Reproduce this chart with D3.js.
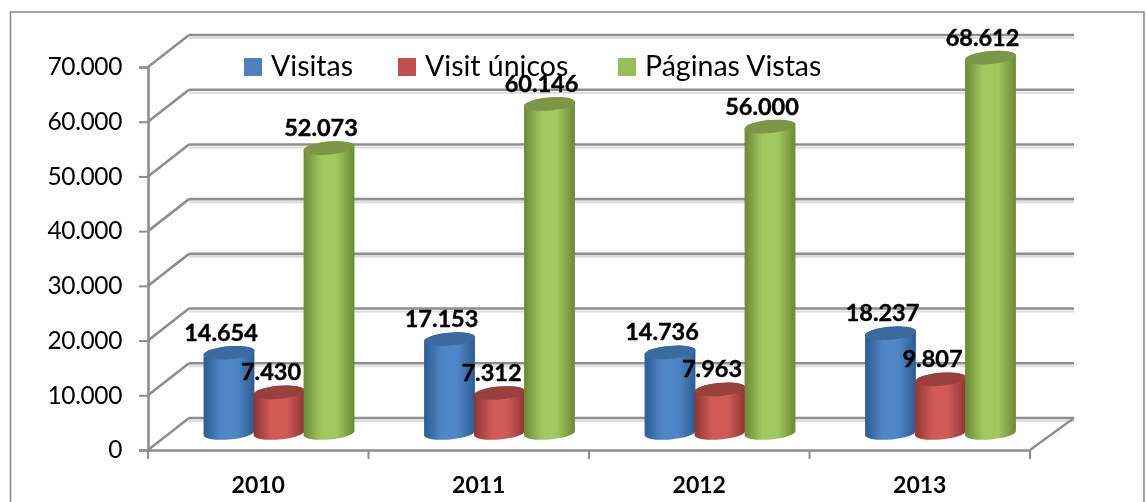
<!DOCTYPE html>
<html>
<head>
<meta charset="utf-8">
<script src="https://cdn.jsdelivr.net/npm/d3@7"></script>
<style>
  html, body { margin: 0; background: #fff; }
  svg { display: block; }
  text { font-family: Lato, "Open Sans", sans-serif; fill: #000; }
</style>
</head>
<body>
<svg id="chart" width="1147" height="502"></svg>
<script>
// Data
const years = ["2010", "2011", "2012", "2013"];
const seriesNames = ["Visitas", "Visit únicos", "Páginas Vistas"];
const visitas = [14654, 17153, 14736, 18237];
const visitUnicos = [7430, 7312, 7963, 9807];
const paginasVistas = [52073, 60146, 56000, 68612];
const yTicks = [0, 10000, 20000, 30000, 40000, 50000, 60000, 70000];

const seriesValues = [visitas, visitUnicos, paginasVistas];
const colors = [
  { edge: "#2c5c92", mid: "#4f86c6", top: "#3a6a9f", key: "#4f81bd" },
  { edge: "#8f3633", mid: "#d05a57", top: "#973f3c", key: "#c0504d" },
  { edge: "#6b8835", mid: "#a3c85f", top: "#7b9647", key: "#9bbb59" },
];

const svg = d3.select("#chart");
const defs = svg.append("defs");
defs.append("filter").attr("id", "soft")
  .append("feGaussianBlur").attr("stdDeviation", 0.45);

colors.forEach((c, i) => {
  const g = defs.append("linearGradient").attr("id", "cyl" + i);
  g.append("stop").attr("offset", "0%").attr("stop-color", c.edge);
  g.append("stop").attr("offset", "35%").attr("stop-color", c.mid);
  g.append("stop").attr("offset", "65%").attr("stop-color", c.mid);
  g.append("stop").attr("offset", "100%").attr("stop-color", c.edge);
});

// Frame
svg.append("rect")
  .attr("x", 10.5).attr("y", 12).attr("width", 1133.5).attr("height", 520)
  .attr("fill", "#fff").attr("stroke", "#8f8f8f").attr("stroke-width", 1.6);

// Scales
const x = d3.scaleBand().domain(years).range([148, 1030]);
const y = d3.scaleLinear().domain([0, 70000]).range([450, 67]);
const inner = d3.scaleBand().domain(d3.range(3)).range([56, 206]);
const nf = d3.formatLocale({ decimal: ",", thousands: ".", grouping: [3], currency: ["", ""] }).format(",d");

// 3D offset of the back wall and of the bar bases
const depthX = 41;
const depthY = -32;
const baseLift = 17;
const gridColor = "#8e8e8e";

const plot = svg.append("g").attr("filter", "url(#soft)");

// Back wall lines and their shadow
const grid = plot.append("g");
grid.selectAll("line.shadow").data(yTicks).enter().append("line")
  .attr("class", "shadow")
  .attr("x1", depthX + 148).attr("x2", 1074)
  .attr("y1", (d) => y(d) + depthY + 3).attr("y2", (d) => y(d) + depthY + 3)
  .attr("stroke", "#dcdcdc").attr("stroke-width", 2);
grid.selectAll("line.back").data(yTicks).enter().append("line")
  .attr("class", "back")
  .attr("x1", depthX + 148).attr("x2", 1074)
  .attr("y1", (d) => y(d) + depthY).attr("y2", (d) => y(d) + depthY)
  .attr("stroke", gridColor).attr("stroke-width", 2.6);
grid.selectAll("line.side").data(yTicks).enter().append("line")
  .attr("class", "side")
  .attr("x1", 148).attr("x2", 148 + depthX)
  .attr("y1", (d) => y(d)).attr("y2", (d) => y(d) + depthY)
  .attr("stroke", gridColor).attr("stroke-width", 2.6);

// Floor, right edge
grid.append("line")
  .attr("x1", 1030).attr("x2", 1030 + 44)
  .attr("y1", y(0)).attr("y2", y(0) + depthY)
  .attr("stroke", gridColor).attr("stroke-width", 2.4);

// Axes
const yAxis = plot.append("g")
  .attr("transform", "translate(148,0)")
  .call(d3.axisLeft(y).tickValues(yTicks).tickFormat(nf).tickSize(9).tickPadding(17));
const xAxis = plot.append("g")
  .attr("transform", "translate(0,450)")
  .call(d3.axisBottom(x).tickValues([]).tickSizeOuter(0));
[yAxis, xAxis].forEach((a) => {
  a.select(".domain").attr("stroke", gridColor).attr("stroke-width", 2.6);
  a.selectAll(".tick line").attr("stroke", gridColor).attr("stroke-width", 2);
});
yAxis.selectAll("text")
  .attr("font-size", 24.5)
  .attr("font-family", "Lato")
  .attr("letter-spacing", -0.4)
  .attr("fill", "#000");

// Category boundary ticks
xAxis.selectAll("line.bound").data(d3.range(5)).enter().append("line")
  .attr("class", "bound")
  .attr("x1", (i) => 148 + i * x.bandwidth()).attr("x2", (i) => 148 + i * x.bandwidth())
  .attr("y1", 0).attr("y2", 9)
  .attr("stroke", gridColor).attr("stroke-width", 2);

// Category labels
plot.append("g").selectAll("text").data(years).enter().append("text")
  .attr("x", (d) => x(d) + x.bandwidth() / 2)
  .attr("y", 492.5)
  .attr("text-anchor", "middle")
  .attr("font-size", 23)
  .attr("font-weight", 700)
  .text((d) => d);

// Legend
const legendSwatchX = [244, 398, 618];
const legend = plot.append("g").selectAll("g").data(seriesNames).enter().append("g")
  .attr("transform", (d, i) => `translate(${legendSwatchX[i]},58)`);
legend.append("rect")
  .attr("width", 18).attr("height", 18)
  .attr("fill", (d, i) => colors[i].key);
legend.append("text")
  .attr("x", 27).attr("y", 18)
  .attr("font-size", 28.5)
  .text((d) => d);

// Cylinders
const rx = 25.5;
const ry = 6.5;
const tilt = -5;
const tiltRad = (tilt * Math.PI) / 180;

function bodyPath(cx, top, bottom) {
  const dx = rx * Math.cos(tiltRad);
  const dy = rx * Math.sin(tiltRad);
  return `M${cx - dx},${top - dy}` +
    `L${cx - dx},${bottom - dy}` +
    `A${rx},${ry} ${tilt} 0 0 ${cx + dx},${bottom + dy}` +
    `L${cx + dx},${top + dy}` +
    `A${rx},${ry} ${tilt} 0 0 ${cx - dx},${top - dy}Z`;
}

const bars = [];
years.forEach((year, i) => {
  seriesValues.forEach((vals, s) => {
    bars.push({ year, s, value: vals[i] });
  });
});

const barG = plot.append("g").selectAll("g").data(bars).enter().append("g");
const cx = (d) => x(d.year) + inner(d.s) + inner.bandwidth() / 2;
const topY = (d) => y(d.value) - baseLift;
const bottomY = y(0) - baseLift;

barG.append("path")
  .attr("d", (d) => bodyPath(cx(d), topY(d), bottomY))
  .attr("fill", (d) => `url(#cyl${d.s})`);
barG.append("ellipse")
  .attr("rx", rx).attr("ry", ry)
  .attr("transform", (d) => `translate(${cx(d)},${topY(d)}) rotate(${tilt})`)
  .attr("fill", (d) => colors[d.s].top);

// Value labels
plot.append("g").selectAll("text").data(bars).enter().append("text")
  .attr("x", (d) => cx(d) - 8)
  .attr("y", (d) => topY(d) - 12)
  .attr("text-anchor", "middle")
  .attr("font-size", 23.5)
  .attr("font-weight", 700)
  .attr("stroke", "#000")
  .attr("stroke-width", 0.4)
  .text((d) => nf(d.value));
</script>
</body>
</html>
